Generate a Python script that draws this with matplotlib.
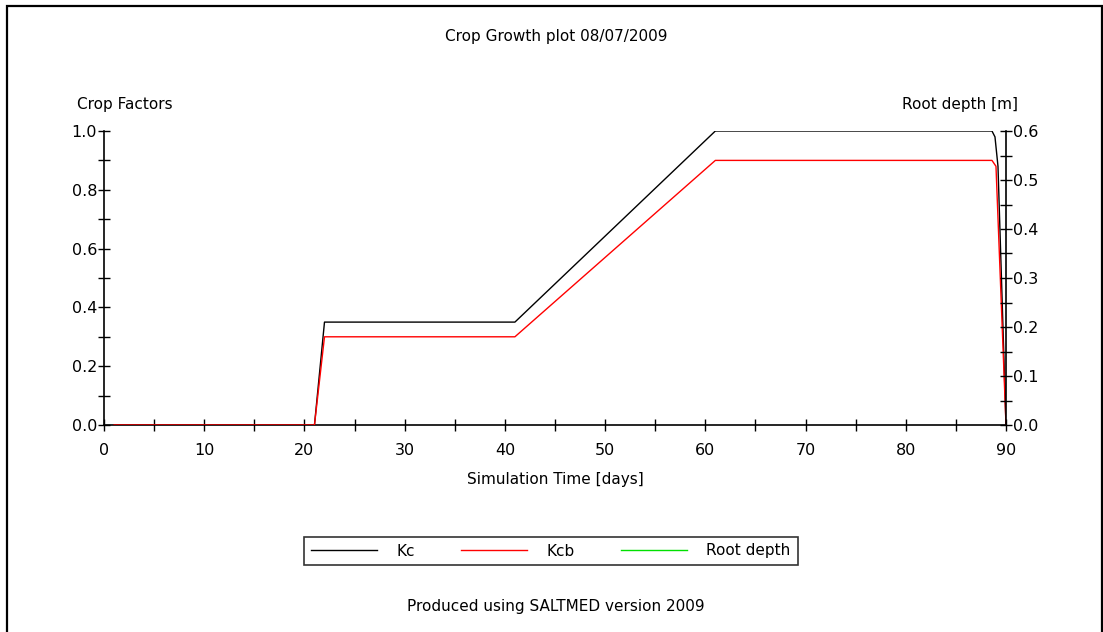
import matplotlib
matplotlib.use("Agg")
import matplotlib.pyplot as plt
from matplotlib.ticker import MultipleLocator, FormatStrFormatter
from matplotlib.patches import Rectangle

plt.rcParams['font.family'] = ['DejaVu Sans']
plt.rcParams['font.size'] = 11

# crop factor curves (breakpoints, days)
kc_days = [1, 21, 22, 41, 61, 88.6, 88.9, 89.2, 90]
kc_vals = [0.0, 0.0, 0.35, 0.35, 1.0, 1.0, 0.98, 0.88, 0.0]
kcb_days = [1, 21, 22, 41, 61, 88.6, 89.0, 90]
kcb_vals = [0.0, 0.0, 0.30, 0.30, 0.90, 0.90, 0.88, 0.0]
root_days = []
root_vals = []

title = "Crop Growth plot 08/07/2009"
footer = "Produced using SALTMED version 2009"

fig = plt.figure(figsize=(11.03, 6.32), dpi=100)
fig.patch.set_facecolor("white")

# outer frame
fig.patches.append(Rectangle((7 / 1103, -0.01), 1095 / 1103, 1 - 6 / 632 + 0.01,
                             transform=fig.transFigure, fill=False,
                             edgecolor="black", linewidth=1.6))

ax = fig.add_axes([104 / 1103, 207 / 632, 902 / 1103, 294 / 632])
ax2 = ax.twinx()

ax.plot(kc_days, kc_vals, color="black", linewidth=1.0, label="Kc", zorder=3)
ax.plot(kcb_days, kcb_vals, color="red", linewidth=1.0, label="Kcb", zorder=4)
ax2.plot(root_days, root_vals, color="#00e000", linewidth=1.0, label="Root depth")

ax.set_xlim(0, 90)
ax.set_ylim(0, 1.0)
ax2.set_ylim(0, 0.6)

ax.xaxis.set_major_locator(MultipleLocator(10))
ax.xaxis.set_minor_locator(MultipleLocator(5))
ax.yaxis.set_major_locator(MultipleLocator(0.2))
ax.yaxis.set_minor_locator(MultipleLocator(0.1))
ax2.yaxis.set_major_locator(MultipleLocator(0.1))
ax2.yaxis.set_minor_locator(MultipleLocator(0.05))
ax.yaxis.set_major_formatter(FormatStrFormatter("%.1f"))
ax2.yaxis.set_major_formatter(FormatStrFormatter("%.1f"))

for a in (ax, ax2):
    a.spines["top"].set_visible(False)
    a.tick_params(which="both", direction="inout", length=8, width=1,
                  labelsize=11.5)
    a.tick_params(axis="y", pad=1)
ax.tick_params(axis="x", pad=9)
ax.spines["right"].set_visible(False)
ax2.spines["left"].set_visible(False)
ax2.spines["bottom"].set_visible(False)
for s in ("left", "bottom"):
    ax.spines[s].set_linewidth(1.2)
ax2.spines["right"].set_linewidth(1.2)

ax.set_xlabel("Simulation Time [days]", fontsize=11, labelpad=10)
ax.text(-0.03, 1.09, "Crop Factors", transform=ax.transAxes, fontsize=11,
        ha="left", va="center")
ax2.text(1.013, 1.09, "Root depth [m]", transform=ax2.transAxes, fontsize=11,
         ha="right", va="center")

fig.text(556 / 1103, 1 - 37 / 632, title, ha="center", va="center", fontsize=11)
fig.text(556 / 1103, 1 - 607 / 632, footer, ha="center", va="center", fontsize=11)

h1, l1 = ax.get_legend_handles_labels()
h2, l2 = ax2.get_legend_handles_labels()
leg = fig.legend(h1 + h2, l1 + l2, loc="center", ncol=3,
                 bbox_to_anchor=(551 / 1103, 1 - 551 / 632),
                 frameon=True, fancybox=False, edgecolor="black",
                 fontsize=11, handlelength=4.3, columnspacing=3.0,
                 handletextpad=1.3, borderpad=0.45, borderaxespad=0)
leg.get_frame().set_linewidth(1.2)

fig.savefig("out.png", dpi=100, facecolor="white")
